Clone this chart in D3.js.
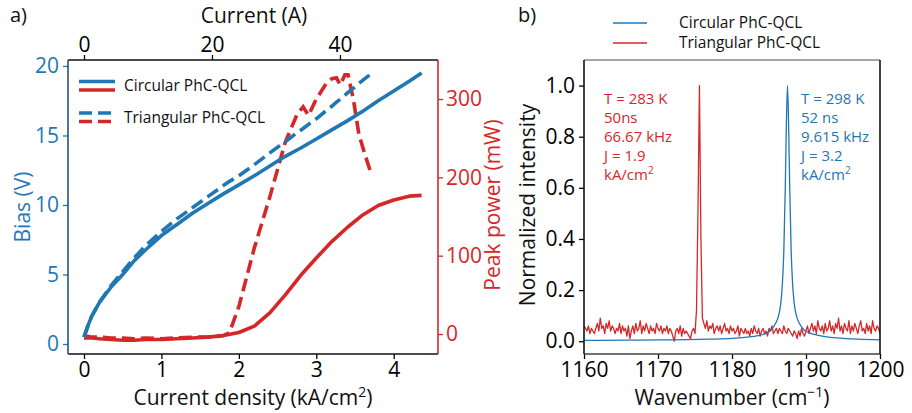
<!DOCTYPE html>
<html><head><meta charset="utf-8">
<script src="https://cdn.jsdelivr.net/npm/d3@7"></script>
<style>
body{margin:0;background:#fff}
svg{display:block}
text{font-family:'Open Sans','Noto Sans',sans-serif}
</style>
</head><body>
<svg id="c" width="912" height="413"></svg>
<script>
// ---------- Panel a data ----------
const circJ     = [0, 0.05, 0.1, 0.2, 0.35, 0.5, 0.65, 0.8, 1.0, 1.2, 1.4, 1.6, 1.8, 2.0, 2.2, 2.4, 2.6, 2.8, 3.0, 3.2, 3.4, 3.6, 3.8, 4.0, 4.2, 4.36];
const circBias  = [0.5, 1.3, 2.0, 3.0, 4.1, 5.0, 6.0, 6.8, 7.8, 8.6, 9.4, 10.1, 10.8, 11.45, 12.1, 12.8, 13.5, 14.1, 14.75, 15.4, 16.05, 16.75, 17.5, 18.2, 18.9, 19.5];
const circPower = [-5, -5, -5, -6, -7, -8, -8, -7, -7, -6, -5, -4, -2, 2, 10, 27, 50, 75, 97, 118, 136, 152, 164, 171, 176, 177];

const triJ     = [0, 0.05, 0.1, 0.2, 0.35, 0.5, 0.65, 0.8, 1.0, 1.2, 1.4, 1.6, 1.8, 1.88, 2.0, 2.2, 2.4, 2.6, 2.75, 2.83, 2.9, 3.0, 3.13, 3.2, 3.26, 3.31, 3.37, 3.41, 3.48, 3.55, 3.62, 3.70];
const triBias  = [0.5, 1.3, 2.0, 3.0, 4.2, 5.2, 6.2, 7.1, 8.1, 9.0, 9.8, 10.6, 11.4, 11.7, 12.1, 12.9, 13.75, 14.55, 15.2, 15.5, 15.8, 16.2, 16.8, 17.1, 17.4, 17.6, 17.9, 18.1, 18.4, 18.75, 19.05, 19.4];
const triPower = [-3, -3, -4, -4, -5, -5, -6, -5, -6, -5, -4, -4, -2, 2, 35, 110, 175, 245, 280, 290, 279, 300, 320, 326, 327, 318, 331, 331, 299, 255, 232, 207];

const densityTicks = [0, 1, 2, 3, 4];
const currentTicks = [0, 20, 40];
const biasTicks    = [0, 5, 10, 15, 20];
const powerTicks   = [0, 100, 200, 300];
const ampsPerDensity = 12.1;

// ---------- Panel b data ----------
const circWn  = [1160, 1165, 1170, 1174, 1177, 1180, 1182, 1183.5, 1184.5, 1185.3, 1185.9, 1186.3, 1186.6, 1186.8, 1187.0, 1187.2, 1187.35, 1187.5, 1187.65, 1187.8, 1188.0, 1188.2, 1188.4, 1188.7, 1189.1, 1189.7, 1190.5, 1191.5, 1193, 1195, 1197, 1200];
const circInt = [0.003, 0.004, 0.005, 0.006, 0.008, 0.011, 0.016, 0.022, 0.030, 0.045, 0.070, 0.100, 0.150, 0.220, 0.350, 0.600, 0.850, 1.0, 0.850, 0.600, 0.350, 0.220, 0.150, 0.100, 0.070, 0.045, 0.032, 0.024, 0.016, 0.011, 0.008, 0.005];

const triWnStart = 1160, triWnStep = 0.2;
const triIntPct = [
  6,5,4,6,3,5,4,3,5,7,4,
  9,5,6,3,7,5,8,4,6,5,
  3,5,4,7,3,6,4,5,2,6,
  1,4,6,3,7,4,5,8,3,6,
  4,7,5,3,6,4,5,3,7,5,
  4,6,3,5,4,6,3,5,4,2,
  0,4,5,3,6,2,5,3,4,3,
  2,1,4,5,3,
  12,50,100,40,9,
  7,5,8,4,6,5,7,3,5,6,
  4,6,3,5,7,4,5,3,6,4,
  5,3,4,6,2,5,4,3,5,3,
  4,2,5,3,6,4,3,5,2,4,
  5,3,4,2,5,4,6,3,4,5,
  3,5,4,3,6,4,3,5,4,3,
  2,4,3,1,4,2,5,3,2,4,
  6,3,5,7,4,6,3,8,5,4,
  6,3,7,4,5,8,4,6,3,7,
  5,9,4,6,3,7,5,4,8,3,
  6,4,7,5,3,6,8,4,5,3,
  7,4,6,3,8,5,4,6,5,3
];
const wnTicks  = [1160, 1170, 1180, 1190, 1200];
const intTicks = [0, 0.2, 0.4, 0.6, 0.8, 1.0];

const blue = "#1f77b4", red = "#d62728";
const svg = d3.select("#c");
const TICK_FS = 21, LABEL_FS = 21;

function styleAxis(g, color, fs) {
  g.select(".domain").remove();
  g.selectAll(".tick line").attr("stroke", color).attr("stroke-width", 1.3);
  g.selectAll(".tick text").attr("fill", color).style("font-size", fs + "px");
}

// ================= Panel a =================
const aL = 68, aR = 438, aT = 60, aB = 354;
const xJ = d3.scaleLinear().domain([-0.2066, 4.572]).range([aL, aR]);
const xA = d3.scaleLinear().domain([-0.2066 * ampsPerDensity, 4.572 * ampsPerDensity]).range([aL, aR]);
const yV = d3.scaleLinear().domain([-0.72, 20.43]).range([aB, aT]);
const yP = d3.scaleLinear().domain([-25.5, 349.8]).range([aB, aT]);

const ga = svg.append("g");
ga.append("g").attr("transform", `translate(0,${aB})`)
  .call(d3.axisBottom(xJ).tickValues(densityTicks).tickFormat(d3.format("d")).tickSize(5).tickPadding(3))
  .call(g => styleAxis(g, "#000", TICK_FS));
ga.append("g").attr("transform", `translate(0,${aT})`)
  .call(d3.axisTop(xA).tickValues(currentTicks).tickFormat(d3.format("d")).tickSize(5).tickPadding(3))
  .call(g => styleAxis(g, "#000", TICK_FS));
ga.append("g").attr("transform", `translate(${aL},0)`)
  .call(d3.axisLeft(yV).tickValues(biasTicks).tickFormat(d3.format("d")).tickSize(5).tickPadding(4))
  .call(g => styleAxis(g, blue, TICK_FS));
ga.append("g").attr("transform", `translate(${aR},0)`)
  .call(d3.axisRight(yP).tickValues(powerTicks).tickFormat(d3.format("d")).tickSize(5).tickPadding(3))
  .call(g => styleAxis(g, red, TICK_FS));

svg.append("clipPath").attr("id", "clipA").append("rect")
  .attr("x", aL).attr("y", aT).attr("width", aR - aL).attr("height", aB - aT);

const lineBias = d3.line().x(d => xJ(d[0])).y(d => yV(d[1]));
const linePow  = d3.line().x(d => xJ(d[0])).y(d => yP(d[1]));
const plotA = ga.append("g").attr("clip-path", "url(#clipA)");
const LW = 3.6, DASH = "13,6";
plotA.append("path").datum(circJ.map((j, i) => [j, circPower[i]])).attr("d", linePow)
  .attr("fill", "none").attr("stroke", red).attr("stroke-width", LW).attr("stroke-linejoin", "round");
plotA.append("path").datum(triJ.map((j, i) => [j, triPower[i]])).attr("d", linePow)
  .attr("fill", "none").attr("stroke", red).attr("stroke-width", LW).attr("stroke-dasharray", DASH);
plotA.append("path").datum(triJ.map((j, i) => [j, triBias[i]])).attr("d", lineBias)
  .attr("fill", "none").attr("stroke", blue).attr("stroke-width", LW).attr("stroke-dasharray", DASH);
plotA.append("path").datum(circJ.map((j, i) => [j, circBias[i]])).attr("d", lineBias)
  .attr("fill", "none").attr("stroke", blue).attr("stroke-width", LW).attr("stroke-linejoin", "round");

// spines
ga.append("line").attr("x1", aL).attr("x2", aR).attr("y1", aT).attr("y2", aT).attr("stroke", "#111").attr("stroke-width", 1.6);
ga.append("line").attr("x1", aL).attr("x2", aR).attr("y1", aB).attr("y2", aB).attr("stroke", "#111").attr("stroke-width", 1.6);
ga.append("line").attr("x1", aL).attr("x2", aL).attr("y1", aT).attr("y2", aB).attr("stroke", "#24557d").attr("stroke-width", 1.6);
ga.append("line").attr("x1", aR).attr("x2", aR).attr("y1", aT).attr("y2", aB).attr("stroke", red).attr("stroke-width", 1.6);

// legend a
const legA = ga.append("g");
[["Circular PhC-QCL", null, 81.5, 86], ["Triangular PhC-QCL", DASH, 113, 118]].forEach(([lab, dash, ly, ty]) => {
  legA.append("line").attr("x1", 79).attr("x2", 115).attr("y1", ly).attr("y2", ly)
    .attr("stroke", blue).attr("stroke-width", LW).attr("stroke-dasharray", dash);
  legA.append("line").attr("x1", 79).attr("x2", 115).attr("y1", ly + 8.5).attr("y2", ly + 8.5)
    .attr("stroke", red).attr("stroke-width", LW).attr("stroke-dasharray", dash);
  legA.append("text").attr("x", 124).attr("y", ty).attr("dy", "0.35em")
    .style("font-size", "15.5px").attr("fill", "#111").text(lab);
});

// labels a
ga.append("text").attr("x", 253).attr("y", 398).attr("text-anchor", "middle").attr("dy", "0.35em")
  .style("font-size", LABEL_FS + "px").attr("fill", "#111")
  .html('Current density (kA/cm<tspan dy="-8" font-size="14px">2</tspan><tspan dy="8">)</tspan>');
ga.append("text").attr("x", 254).attr("y", 16).attr("text-anchor", "middle").attr("dy", "0.35em")
  .style("font-size", LABEL_FS + "px").attr("fill", "#111").text("Current (A)");
ga.append("text").attr("transform", "translate(23,207) rotate(-90)").attr("text-anchor", "middle").attr("dy", "0.35em")
  .style("font-size", LABEL_FS + "px").attr("fill", blue).text("Bias (V)");
ga.append("text").attr("transform", "translate(493,205) rotate(-90)").attr("text-anchor", "middle").attr("dy", "0.35em")
  .style("font-size", LABEL_FS + "px").attr("fill", red).text("Peak power (mW)");
ga.append("text").attr("x", 10).attr("y", 15).attr("dy", "0.35em").style("font-size", "20px").attr("fill", "#111").text("a)");

// ================= Panel b =================
const bL = 584, bR = 880, bT = 60, bB = 354;
const xW = d3.scaleLinear().domain([1160, 1200]).range([bL, bR]);
const yI = d3.scaleLinear().domain([-0.05, 1.1]).range([bB, bT]);
const gb = svg.append("g");
gb.append("g").attr("transform", `translate(0,${bB})`)
  .call(d3.axisBottom(xW).tickValues(wnTicks).tickFormat(d3.format("d")).tickSize(5).tickPadding(3))
  .call(g => styleAxis(g, "#000", TICK_FS));
gb.append("g").attr("transform", `translate(${bL},0)`)
  .call(d3.axisLeft(yI).tickValues(intTicks).tickFormat(d3.format(".1f")).tickSize(5).tickPadding(4))
  .call(g => styleAxis(g, "#000", TICK_FS));

svg.append("clipPath").attr("id", "clipB").append("rect")
  .attr("x", bL).attr("y", bT).attr("width", bR - bL).attr("height", bB - bT);
const plotB = gb.append("g").attr("clip-path", "url(#clipB)");
const lineSpec = d3.line().x(d => xW(d[0])).y(d => yI(d[1]));
plotB.append("path").datum(triIntPct.map((v, i) => [triWnStart + i * triWnStep, v / 100])).attr("d", lineSpec)
  .attr("fill", "none").attr("stroke", red).attr("stroke-width", 1.3).attr("stroke-linejoin", "round");
plotB.append("path").datum(circWn.map((w, i) => [w, circInt[i]])).attr("d", lineSpec.curve(d3.curveMonotoneX))
  .attr("fill", "none").attr("stroke", blue).attr("stroke-width", 1.3);

gb.append("line").attr("x1", bL).attr("x2", bR).attr("y1", bT).attr("y2", bT).attr("stroke", "#888").attr("stroke-width", 1.6);
gb.append("line").attr("x1", bL).attr("x2", bR).attr("y1", bB).attr("y2", bB).attr("stroke", "#444").attr("stroke-width", 1.6);
gb.append("line").attr("x1", bL).attr("x2", bL).attr("y1", bT).attr("y2", bB).attr("stroke", "#111").attr("stroke-width", 1.6);
gb.append("line").attr("x1", bR).attr("x2", bR).attr("y1", bT).attr("y2", bB).attr("stroke", "#111").attr("stroke-width", 1.6);

// annotations (one text block per sample, lines as tspans)
const annoRed  = ["T = 283 K", "50ns", "66.67 kHz", "J = 1.9", "kA/cm"];
const annoBlue = ["T = 298 K", "52 ns", "9.615 kHz", "J = 3.2", "kA/cm"];
[[annoRed, 604, red], [annoBlue, 801, blue]].forEach(([lines, x, col]) => {
  const t = gb.append("text").attr("x", x).attr("y", 104).style("font-size", "15px").attr("fill", col);
  lines.forEach((s, i) => {
    t.append("tspan").attr("x", x).attr("y", 104 + i * 19).text(s);
  });
  t.append("tspan").attr("dy", -6).style("font-size", "10px").text("2");
});

// legend b
[["Circular PhC-QCL", blue, 23], ["Triangular PhC-QCL", red, 43]].forEach(([lab, col, y]) => {
  gb.append("line").attr("x1", 613).attr("x2", 647).attr("y1", y).attr("y2", y).attr("stroke", col).attr("stroke-width", 1.3);
  gb.append("text").attr("x", 679).attr("y", y).attr("dy", "0.35em").style("font-size", "15.5px").attr("fill", "#111").text(lab);
});

gb.append("text").attr("x", 732).attr("y", 398).attr("text-anchor", "middle").attr("dy", "0.35em")
  .style("font-size", LABEL_FS + "px").attr("fill", "#111")
  .html('Wavenumber (cm<tspan dy="-8" font-size="14px">−1</tspan><tspan dy="8">)</tspan>');
gb.append("text").attr("transform", "translate(528,205) rotate(-90)").attr("text-anchor", "middle").attr("dy", "0.35em")
  .style("font-size", LABEL_FS + "px").attr("fill", "#111").text("Normalized intensity");
gb.append("text").attr("x", 518).attr("y", 15).attr("dy", "0.35em").style("font-size", "20px").attr("fill", "#111").text("b)");
</script>
</body></html>
